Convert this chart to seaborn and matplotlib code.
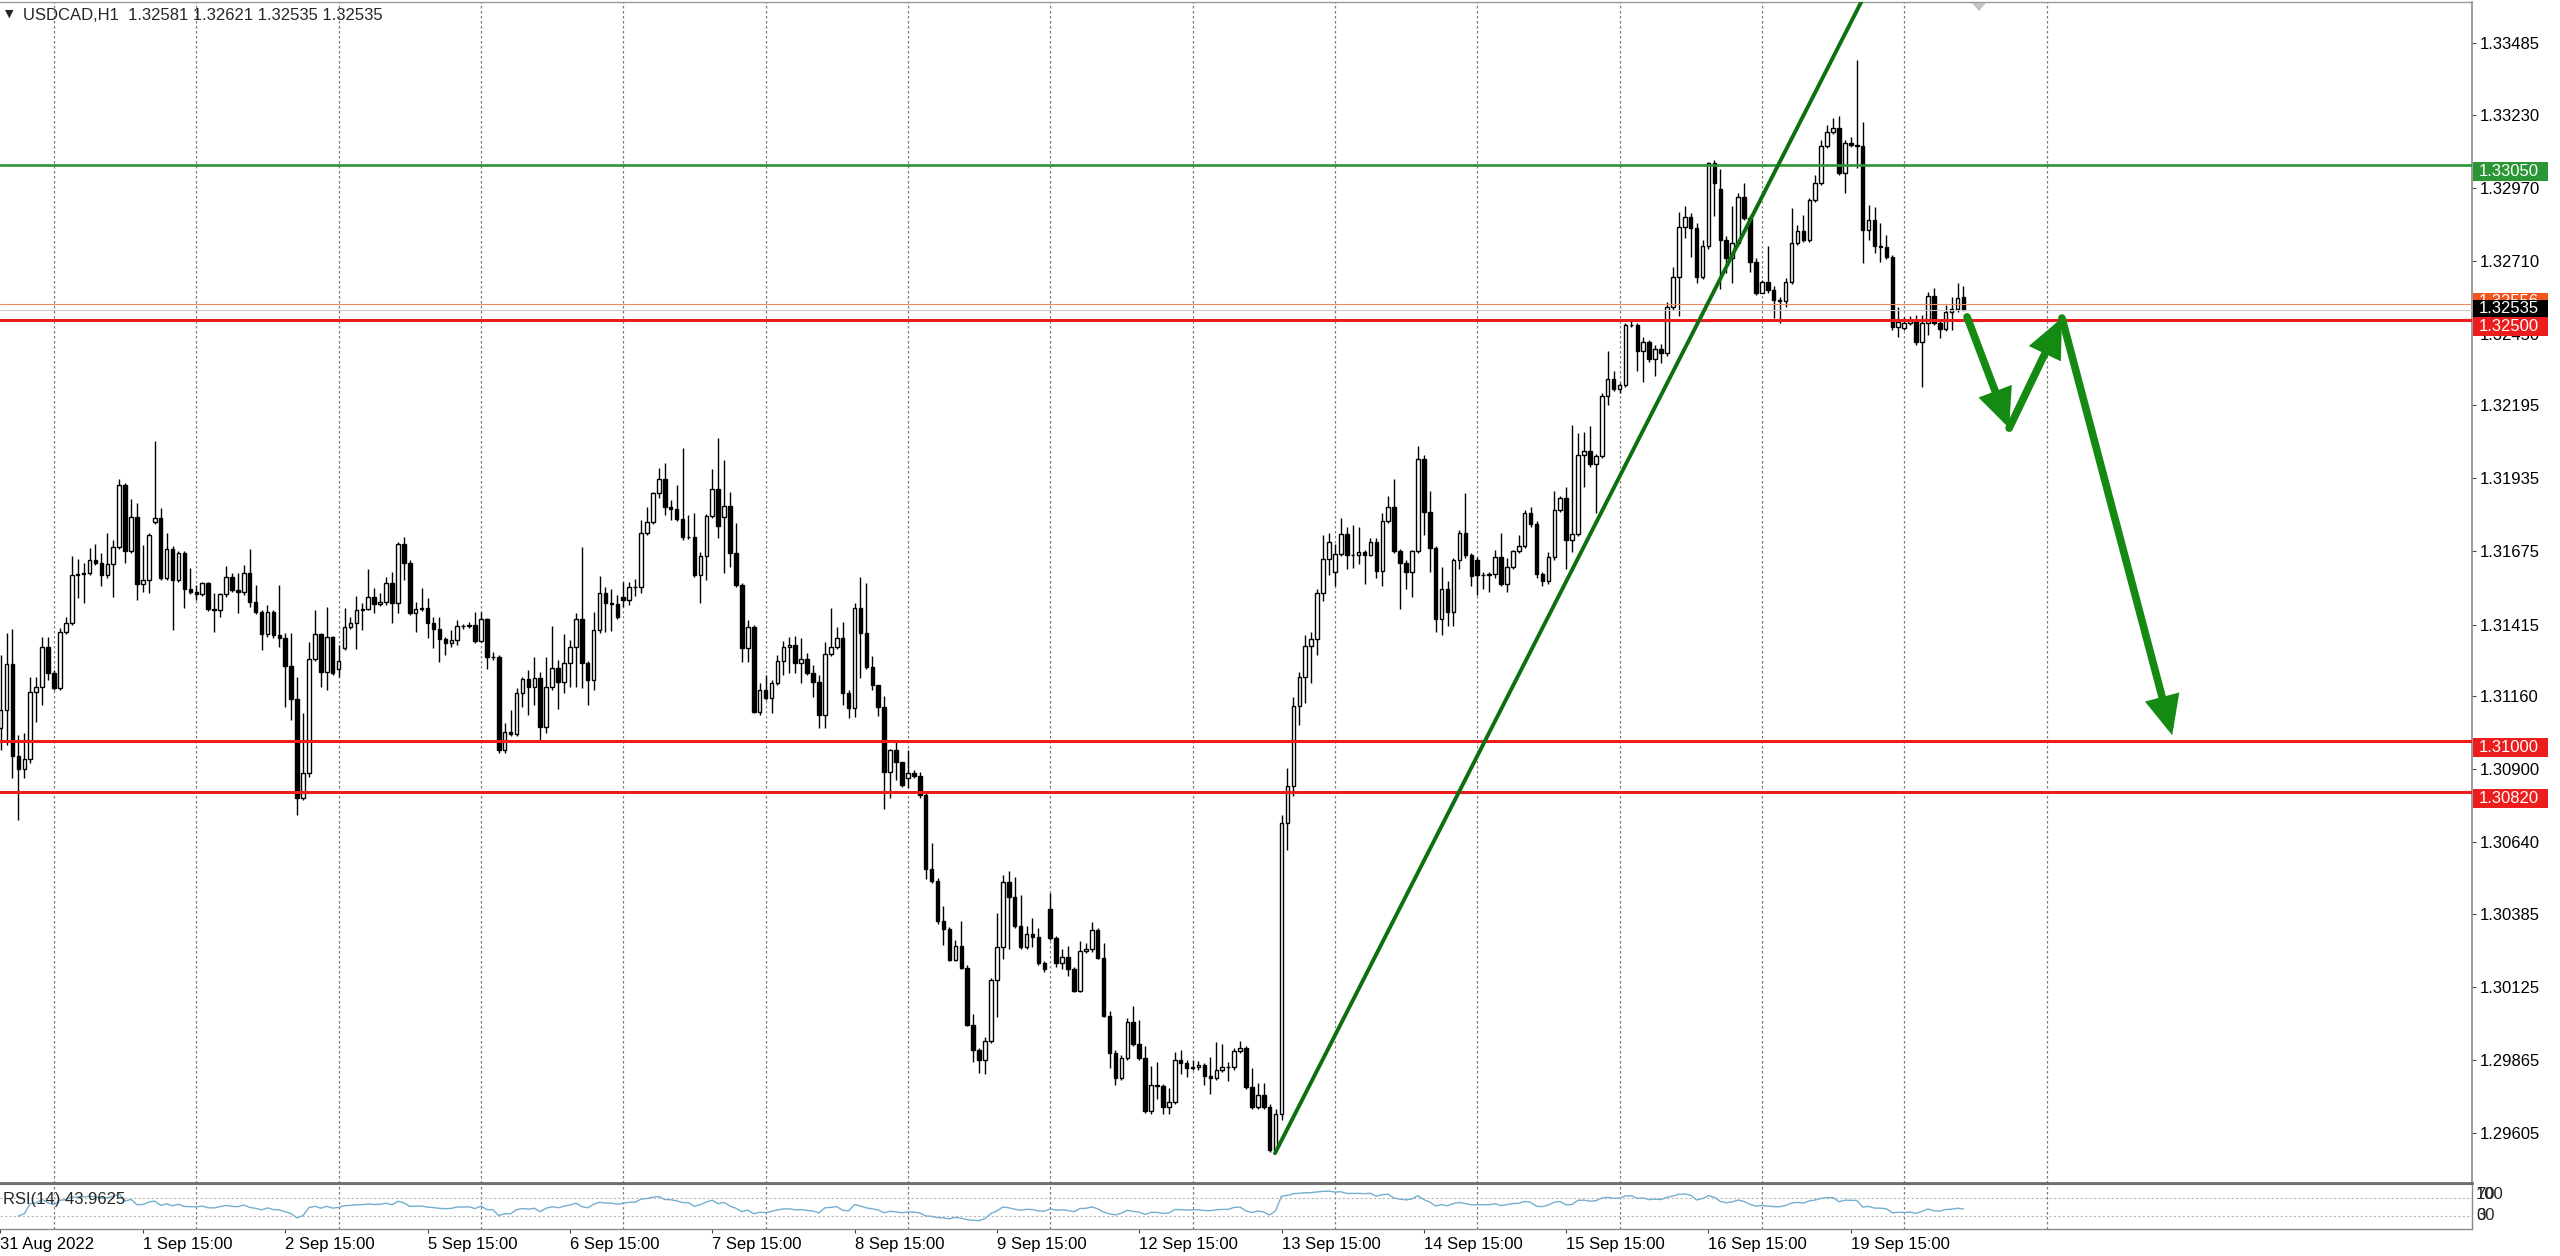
import numpy as np
import pandas as pd
import matplotlib
matplotlib.use("Agg")
import matplotlib.pyplot as plt
import seaborn as sns
from matplotlib.patches import Rectangle, Polygon, FancyArrowPatch, ArrowStyle
from matplotlib.transforms import blended_transform_factory

# ---------------- data (USDCAD H1, 31 Aug 2022 15:00 -> 20 Sep 2022 10:00) ----------------
closes = [
    1.31110, 1.31274, 1.30947, 1.30900, 1.30936, 1.31175, 1.31192, 1.31335, 1.31242, 1.31189,
    1.31388, 1.31420, 1.31591, 1.31595, 1.31598, 1.31644, 1.31634, 1.31591, 1.31630, 1.31691,
    1.31911, 1.31676, 1.31798, 1.31559, 1.31573, 1.31733, 1.31794, 1.31580, 1.31684, 1.31573,
    1.31669, 1.31541, 1.31530, 1.31523, 1.31563, 1.31470, 1.31466, 1.31523, 1.31584, 1.31538,
    1.31530, 1.31598, 1.31495, 1.31459, 1.31381, 1.31459, 1.31377, 1.31367, 1.31267, 1.31150,
    1.30797, 1.30886, 1.31292, 1.31381, 1.31246, 1.31370, 1.31242, 1.31285, 1.31406, 1.31420,
    1.31466, 1.31470, 1.31513, 1.31488, 1.31495, 1.31563, 1.31491, 1.31701, 1.31634, 1.31456,
    1.31470, 1.31474, 1.31420, 1.31399, 1.31363, 1.31349, 1.31360, 1.31409, 1.31409, 1.31413,
    1.31356, 1.31434, 1.31299, 1.31299, 1.30968, 1.31032, 1.31025, 1.31171, 1.31221, 1.31192,
    1.31224, 1.31050, 1.31192, 1.31260, 1.31210, 1.31278, 1.31335, 1.31434, 1.31278, 1.31217,
    1.31395, 1.31527, 1.31491, 1.31488, 1.31441, 1.31502, 1.31548, 1.31548, 1.31741, 1.31780,
    1.31883, 1.31933, 1.31833, 1.31826, 1.31790, 1.31726, 1.31726, 1.31591, 1.31659, 1.31801,
    1.31897, 1.31765, 1.31837, 1.31669, 1.31555, 1.31331, 1.31406, 1.31103, 1.31182, 1.31153,
    1.31207, 1.31285, 1.31335, 1.31342, 1.31278, 1.31292, 1.31242, 1.31210, 1.31093, 1.31310,
    1.31335, 1.31367, 1.31171, 1.31118, 1.31474, 1.31384, 1.31263, 1.31200, 1.31121, 1.30890,
    1.30968, 1.30925, 1.30843, 1.30886, 1.30875, 1.30808, 1.30544, 1.30502, 1.30359, 1.30331,
    1.30220, 1.30270, 1.30192, 1.29989, 1.29900, 1.29864, 1.29932, 1.30149, 1.30267, 1.30498,
    1.30445, 1.30341, 1.30267, 1.30313, 1.30302, 1.30210, 1.30188, 1.30299, 1.30210, 1.30231,
    1.30188, 1.30110, 1.30252, 1.30260, 1.30327, 1.30227, 1.30021, 1.29889, 1.29800, 1.29872,
    1.30000, 1.29921, 1.29872, 1.29683, 1.29775, 1.29772, 1.29697, 1.29715, 1.29864, 1.29854,
    1.29836, 1.29839, 1.29847, 1.29807, 1.29800, 1.29829, 1.29839, 1.29839, 1.29896, 1.29907,
    1.29768, 1.29697, 1.29740, 1.29697, 1.29544, 1.29672, 1.30708, 1.30840, 1.31125, 1.31228,
    1.31338, 1.31363, 1.31527, 1.31648, 1.31709, 1.31666, 1.31737, 1.31662, 1.31662, 1.31673,
    1.31662, 1.31709, 1.31605, 1.31783, 1.31833, 1.31676, 1.31634, 1.31602, 1.31676, 1.32004,
    1.31815, 1.31687, 1.31434, 1.31541, 1.31459, 1.31644, 1.31741, 1.31662, 1.31587, 1.31591,
    1.31591, 1.31595, 1.31655, 1.31559, 1.31619, 1.31676, 1.31694, 1.31812, 1.31773, 1.31595,
    1.31570, 1.31655, 1.31822, 1.31865, 1.31716, 1.31737, 1.32018, 1.32032, 1.31986, 1.32015,
    1.32228, 1.32289, 1.32253, 1.32267, 1.32481, 1.32481, 1.32388, 1.32420, 1.32360, 1.32396,
    1.32381, 1.32545, 1.32652, 1.32830, 1.32865, 1.32826, 1.32652, 1.32762, 1.33058, 1.32987,
    1.32784, 1.32720, 1.32773, 1.32937, 1.32862, 1.32705, 1.32595, 1.32634, 1.32606, 1.32570,
    1.32566, 1.32634, 1.32773, 1.32816, 1.32784, 1.32926, 1.32987, 1.33118, 1.33168, 1.33182,
    1.33022, 1.33129, 1.33122, 1.33118, 1.32819, 1.32855, 1.32762, 1.32759, 1.32723, 1.32474,
    1.32492, 1.32488, 1.32499, 1.32420, 1.32488, 1.32584, 1.32488, 1.32467, 1.32527, 1.32538,
    1.32577, 1.32535,
]
highs = [
    1.31306, 1.31384, 1.31399, 1.31021, 1.31029, 1.31228, 1.31228, 1.31370, 1.31370, 1.31253,
    1.31402, 1.31441, 1.31659, 1.31648, 1.31634, 1.31687, 1.31701, 1.31669, 1.31741, 1.31716,
    1.31933, 1.31918, 1.31862, 1.31847, 1.31698, 1.31741, 1.32068, 1.31830, 1.31741, 1.31694,
    1.31676, 1.31676, 1.31616, 1.31555, 1.31566, 1.31566, 1.31527, 1.31527, 1.31623, 1.31598,
    1.31598, 1.31627, 1.31684, 1.31555, 1.31466, 1.31484, 1.31466, 1.31555, 1.31384, 1.31384,
    1.31228, 1.31100, 1.31352, 1.31466, 1.31384, 1.31477, 1.31374, 1.31342, 1.31474, 1.31441,
    1.31516, 1.31491, 1.31612, 1.31545, 1.31527, 1.31584, 1.31602, 1.31709, 1.31726, 1.31644,
    1.31495, 1.31545, 1.31509, 1.31441, 1.31441, 1.31370, 1.31395, 1.31431, 1.31417, 1.31424,
    1.31459, 1.31459, 1.31438, 1.31317, 1.31306, 1.31064, 1.31110, 1.31189, 1.31228, 1.31253,
    1.31299, 1.31246, 1.31299, 1.31409, 1.31288, 1.31381, 1.31360, 1.31456, 1.31691, 1.31285,
    1.31459, 1.31587, 1.31548, 1.31541, 1.31520, 1.31566, 1.31566, 1.31577, 1.31787, 1.31833,
    1.31886, 1.31972, 1.31990, 1.31858, 1.31911, 1.32043, 1.31805, 1.31812, 1.31673, 1.31808,
    1.31968, 1.32079, 1.32000, 1.31886, 1.31776, 1.31563, 1.31431, 1.31413, 1.31207, 1.31235,
    1.31217, 1.31306, 1.31356, 1.31370, 1.31374, 1.31367, 1.31313, 1.31271, 1.31235, 1.31352,
    1.31474, 1.31406, 1.31424, 1.31182, 1.31491, 1.31584, 1.31563, 1.31303, 1.31200, 1.31160,
    1.30972, 1.31000, 1.30925, 1.30968, 1.30897, 1.30890, 1.30815, 1.30637, 1.30512, 1.30413,
    1.30338, 1.30292, 1.30359, 1.30203, 1.30028, 1.29907, 1.29946, 1.30156, 1.30388, 1.30523,
    1.30537, 1.30516, 1.30452, 1.30341, 1.30370, 1.30334, 1.30217, 1.30459, 1.30306, 1.30260,
    1.30270, 1.30195, 1.30288, 1.30281, 1.30356, 1.30334, 1.30281, 1.30039, 1.29900, 1.29882,
    1.30014, 1.30057, 1.30007, 1.29914, 1.29843, 1.29857, 1.29779, 1.29765, 1.29893, 1.29900,
    1.29864, 1.29864, 1.29861, 1.29854, 1.29875, 1.29928, 1.29921, 1.29857, 1.29907, 1.29932,
    1.29914, 1.29836, 1.29783, 1.29783, 1.29708, 1.29690, 1.30737, 1.30904, 1.31157, 1.31246,
    1.31377, 1.31388, 1.31541, 1.31733, 1.31741, 1.31701, 1.31794, 1.31762, 1.31769, 1.31762,
    1.31680, 1.31723, 1.31723, 1.31812, 1.31872, 1.31933, 1.31684, 1.31644, 1.31680, 1.32050,
    1.32018, 1.31890, 1.31694, 1.31619, 1.31570, 1.31651, 1.31751, 1.31883, 1.31669, 1.31655,
    1.31602, 1.31602, 1.31680, 1.31741, 1.31651, 1.31680, 1.31733, 1.31822, 1.31833, 1.31783,
    1.31602, 1.31673, 1.31890, 1.31872, 1.31904, 1.32125, 1.32097, 1.32101, 1.32121, 1.32022,
    1.32239, 1.32388, 1.32317, 1.32275, 1.32488, 1.32502, 1.32488, 1.32438, 1.32428, 1.32410,
    1.32413, 1.32563, 1.32688, 1.32883, 1.32905, 1.32880, 1.32844, 1.32784, 1.33061, 1.33068,
    1.33036, 1.32798, 1.32905, 1.32951, 1.32987, 1.32873, 1.32720, 1.32641, 1.32762, 1.32620,
    1.32581, 1.32648, 1.32898, 1.32837, 1.32873, 1.32933, 1.33015, 1.33140, 1.33193, 1.33218,
    1.33225, 1.33140, 1.33150, 1.33424, 1.33204, 1.32908, 1.32901, 1.32844, 1.32801, 1.32730,
    1.32545, 1.32509, 1.32513, 1.32517, 1.32517, 1.32599, 1.32613, 1.32499, 1.32552, 1.32581,
    1.32631, 1.32621,
]
lows = [
    1.30968, 1.30986, 1.30868, 1.30719, 1.30868, 1.30922, 1.31068, 1.31128, 1.31217, 1.31182,
    1.31182, 1.31381, 1.31413, 1.31509, 1.31491, 1.31591, 1.31627, 1.31552, 1.31580, 1.31513,
    1.31684, 1.31634, 1.31669, 1.31502, 1.31531, 1.31527, 1.31773, 1.31573, 1.31573, 1.31395,
    1.31566, 1.31474, 1.31523, 1.31502, 1.31516, 1.31463, 1.31388, 1.31441, 1.31513, 1.31531,
    1.31456, 1.31520, 1.31477, 1.31452, 1.31324, 1.31370, 1.31367, 1.31335, 1.31121, 1.31075,
    1.30737, 1.30790, 1.30872, 1.31285, 1.31192, 1.31182, 1.31235, 1.31228, 1.31324, 1.31399,
    1.31328, 1.31395, 1.31466, 1.31456, 1.31481, 1.31484, 1.31420, 1.31456, 1.31573, 1.31449,
    1.31388, 1.31463, 1.31367, 1.31331, 1.31281, 1.31306, 1.31335, 1.31342, 1.31399, 1.31402,
    1.31349, 1.31352, 1.31256, 1.31288, 1.30957, 1.30957, 1.31018, 1.31018, 1.31121, 1.31093,
    1.31128, 1.31004, 1.31029, 1.31182, 1.31114, 1.31171, 1.31192, 1.31192, 1.31189, 1.31128,
    1.31182, 1.31384, 1.31388, 1.31392, 1.31434, 1.31477, 1.31484, 1.31516, 1.31527, 1.31733,
    1.31773, 1.31865, 1.31805, 1.31787, 1.31783, 1.31716, 1.31719, 1.31584, 1.31491, 1.31573,
    1.31794, 1.31723, 1.31598, 1.31619, 1.31548, 1.31281, 1.31281, 1.31100, 1.31093, 1.31146,
    1.31100, 1.31200, 1.31235, 1.31242, 1.31242, 1.31207, 1.31235, 1.31157, 1.31046, 1.31046,
    1.31303, 1.31328, 1.31128, 1.31082, 1.31085, 1.31224, 1.31256, 1.31182, 1.31089, 1.30758,
    1.30797, 1.30861, 1.30836, 1.30833, 1.30868, 1.30797, 1.30509, 1.30495, 1.30349, 1.30274,
    1.30217, 1.30217, 1.30188, 1.29985, 1.29857, 1.29818, 1.29815, 1.29925, 1.30017, 1.30224,
    1.30260, 1.30334, 1.30260, 1.30260, 1.30267, 1.30203, 1.30178, 1.30292, 1.30195, 1.30188,
    1.30163, 1.30107, 1.30107, 1.30245, 1.30249, 1.30224, 1.30017, 1.29836, 1.29775, 1.29793,
    1.29864, 1.29914, 1.29864, 1.29676, 1.29672, 1.29726, 1.29672, 1.29672, 1.29708, 1.29815,
    1.29804, 1.29829, 1.29829, 1.29775, 1.29743, 1.29793, 1.29822, 1.29790, 1.29829, 1.29889,
    1.29761, 1.29690, 1.29690, 1.29690, 1.29537, 1.29537, 1.29651, 1.30612, 1.30804, 1.31057,
    1.31135, 1.31207, 1.31306, 1.31498, 1.31591, 1.31552, 1.31659, 1.31612, 1.31616, 1.31630,
    1.31559, 1.31659, 1.31580, 1.31552, 1.31776, 1.31669, 1.31470, 1.31541, 1.31513, 1.31669,
    1.31733, 1.31602, 1.31388, 1.31377, 1.31409, 1.31409, 1.31612, 1.31651, 1.31552, 1.31520,
    1.31541, 1.31530, 1.31580, 1.31552, 1.31530, 1.31612, 1.31669, 1.31687, 1.31762, 1.31580,
    1.31552, 1.31559, 1.31644, 1.31815, 1.31612, 1.31673, 1.31730, 1.31904, 1.31975, 1.31812,
    1.32008, 1.32196, 1.32246, 1.32239, 1.32260, 1.32474, 1.32317, 1.32278, 1.32349, 1.32299,
    1.32346, 1.32371, 1.32534, 1.32513, 1.32791, 1.32723, 1.32631, 1.32645, 1.32752, 1.32869,
    1.32609, 1.32666, 1.32631, 1.32762, 1.32855, 1.32670, 1.32588, 1.32595, 1.32595, 1.32506,
    1.32488, 1.32545, 1.32627, 1.32766, 1.32777, 1.32777, 1.32919, 1.32979, 1.33111, 1.33161,
    1.33015, 1.32951, 1.33115, 1.33040, 1.32702, 1.32784, 1.32737, 1.32705, 1.32716, 1.32463,
    1.32438, 1.32463, 1.32481, 1.32410, 1.32260, 1.32445, 1.32481, 1.32435, 1.32460, 1.32463,
    1.32527, 1.32535,
]
# opens equal the previous close, except these bars (first bar and gaps)
open_overrides = {0: 1.31046, 26: 1.31780, 57: 1.31256, 58: 1.31331, 105: 1.31513,
                  122: 1.31798, 153: 1.30868, 177: 1.30402, 225: 1.31602, 249: 1.31644,
                  290: 1.32965, 321: 1.32470, 331: 1.32581}

resistance_levels = [1.33050]
support_levels = [1.32500, 1.31000, 1.30820]
bid_price = 1.32535
ask_price = 1.32556
price_ticks = [1.33485, 1.33230, 1.32970, 1.32710, 1.32450, 1.32195, 1.31935, 1.31675,
               1.31415, 1.31160, 1.30900, 1.30640, 1.30385, 1.30125, 1.29865, 1.29605]
date_labels = ["31 Aug 2022", "1 Sep 15:00", "2 Sep 15:00", "5 Sep 15:00", "6 Sep 15:00",
               "7 Sep 15:00", "8 Sep 15:00", "9 Sep 15:00", "12 Sep 15:00", "13 Sep 15:00",
               "14 Sep 15:00", "15 Sep 15:00", "16 Sep 15:00", "19 Sep 15:00"]
date_label_bars = [-0.1, 24, 48, 72, 96, 120, 144, 168, 192, 216, 240, 264, 288, 312]
day_start_bars = [9 + 24 * k for k in range(15)]
# trend line anchors (bar, price) and forecast arrow path
trend_p1 = (214.9, 1.29533)
trend_p2 = (310.5, 1.33496)
forecast_path = [(331.6, 1.32510), (338.7, 1.32114), (347.6, 1.32506), (366.2, 1.31021)]
title_text = "USDCAD,H1  1.32581 1.32621 1.32535 1.32535"
rsi_text = "RSI(14) 43.9625"

# ---------------- build ----------------
n = len(closes)
assert len(highs) == n and len(lows) == n, (n, len(highs), len(lows))
opens = [open_overrides[0]] + closes[:-1]
for k, v in open_overrides.items():
    opens[k] = v
df = pd.DataFrame({"bar": np.arange(n), "open": opens, "high": highs,
                   "low": lows, "close": closes})

delta = df["close"].diff()
up = delta.clip(lower=0)
dn = (-delta).clip(lower=0)
avg_up = up.ewm(alpha=1 / 14, adjust=True).mean()
avg_dn = dn.ewm(alpha=1 / 14, adjust=True).mean()
df["rsi"] = 100 - 100 / (1 + avg_up / avg_dn)

sns.set_theme(style="white")
plt.rcParams["font.family"] = ["Liberation Sans", "DejaVu Sans"]

W, H = 2560, 1256
fig = plt.figure(figsize=(W / 100, H / 100), dpi=100)
fig.patch.set_facecolor("white")
ax = fig.add_axes([0, 73 / H, 2472 / W, 1181 / H])
ax2 = fig.add_axes([0, 27 / H, 2472 / W, 45 / H])

XMIN, XMAX = -0.1, 416.75
YMIN, YMAX = 1.29427, 1.33631
ppx = (YMAX - YMIN) / 1181.0

# grid (day separators)
for b in day_start_bars:
    for a in (ax, ax2):
        a.axvline(b, color="#7a7a7a", lw=0.9, ls=(0, (2, 2)), zorder=1)

# candles
ax.vlines(df["bar"], df["low"], df["high"], colors="black", linewidth=1.0, zorder=3)
bull = df["close"] >= df["open"]
bottom = np.minimum(df["open"], df["close"])
height = (df["close"] - df["open"]).abs()
ax.bar(df["bar"][bull], height[bull], bottom=bottom[bull], width=0.6,
       facecolor="white", edgecolor="black", linewidth=1.0, zorder=4)
ax.bar(df["bar"][~bull], height[~bull], bottom=bottom[~bull], width=0.6,
       facecolor="black", edgecolor="black", linewidth=1.0, zorder=4)

# level lines
ax.axhline(ask_price, color="#f4895f", lw=0.8, zorder=5)
ax.axhline(bid_price, color="#cfc6c6", lw=0.8, zorder=5)
for p in resistance_levels:
    ax.axhline(p, color="#2b9634", lw=1.9, zorder=6)
for p in support_levels:
    ax.axhline(p, color="#ee1d1d", lw=2.2, zorder=6)

# trend line (ray)
slope = (trend_p2[1] - trend_p1[1]) / (trend_p2[0] - trend_p1[0])
x_far = 330.0
ax.plot([trend_p1[0], x_far], [trend_p1[1], trend_p1[1] + slope * (x_far - trend_p1[0])],
        color="#0e6f10", lw=2.8, solid_capstyle="round", zorder=7)

# forecast arrows
style = ArrowStyle("-|>", head_length=1.0, head_width=0.45)
for (x0, y0), (x1, y1) in zip(forecast_path[:-1], forecast_path[1:]):
    arr = FancyArrowPatch((x0, y0), (x1, y1), arrowstyle=style, mutation_scale=19,
                          color="#148a12", lw=5.5, shrinkA=0, shrinkB=0, zorder=8,
                          joinstyle="miter", capstyle="round")
    ax.add_patch(arr)

ax.set_xlim(XMIN, XMAX)
ax.set_ylim(YMIN, YMAX)
ax.set_xticks([])
ax.yaxis.tick_right()
ax.set_yticks(price_ticks)
ax.set_yticklabels([f"{p:.5f}" for p in price_ticks])
ax.tick_params(axis="y", which="both", right=True, left=False, direction="out",
               length=2.9, width=0.8, color="#444444", pad=2.9, labelsize=12,
               labelcolor="black")
ax.spines["left"].set_visible(False)
ax.spines["top"].set_color("#9a9a9a")
ax.spines["top"].set_linewidth(1.0)
ax.spines["right"].set_color("#8a8a8a")
ax.spines["right"].set_linewidth(1.2)
ax.spines["bottom"].set_color("#6e6e6e")
ax.spines["bottom"].set_linewidth(2.0)
ax.set_facecolor("white")

# price tags on the right scale
tr = blended_transform_factory(ax.transAxes, ax.transData)


def tag(price, label, fc, top_off, hgt_px, z):
    top = price + top_off * ppx
    hgt = hgt_px * ppx
    ax.add_patch(Rectangle((2473 / 2472, top - hgt), 75 / 2472, hgt, transform=tr,
                           facecolor=fc, edgecolor="none", clip_on=False, zorder=z))
    ax.text(2479 / 2472, top - hgt / 2, label, transform=tr, fontsize=12, color="white",
            va="center", ha="left", clip_on=False, zorder=z + 0.5)


tag(ask_price, f"{ask_price:.5f}", "#f2541b", 11, 18, 10)
tag(bid_price, f"{bid_price:.5f}", "black", 10, 17, 11)
for p in resistance_levels:
    tag(p, f"{p:.5f}", "#2b9634", 3, 19, 12)
for p in support_levels:
    tag(p, f"{p:.5f}", "#ee1d1d", 3, 19, 12)

# RSI panel
sns.lineplot(data=df.iloc[3:], x="bar", y="rsi", ax=ax2, color="#74afcf", lw=1.0)
for lvl in (70, 30):
    ax2.axhline(lvl, color="#b8b8b8", lw=0.8, ls=(0, (2, 2)), zorder=1)
ax2.set_xlim(XMIN, XMAX)
ax2.set_ylim(0, 100)
ax2.set_xlabel("")
ax2.set_ylabel("")
ax2.set_yticks([])
ax2.set_xticks(date_label_bars)
ax2.set_xticklabels(date_labels)
for lbl in ax2.get_xticklabels():
    lbl.set_horizontalalignment("left")
ax2.tick_params(axis="x", bottom=True, direction="out", length=2.9, width=0.8,
                color="#444444", pad=2.5, labelsize=12, labelcolor="black")
ax2.spines["left"].set_visible(False)
ax2.spines["top"].set_color("#6e6e6e")
ax2.spines["top"].set_linewidth(1.5)
for s in ("bottom", "right"):
    ax2.spines[s].set_color("#8a8a8a")
    ax2.spines[s].set_linewidth(1.0)
for lab in ("100", "70"):
    ax2.text(2476 / 2472, 0.756, lab, transform=ax2.transAxes, fontsize=12,
             va="center", ha="left", clip_on=False)
for lab in ("30", "0"):
    ax2.text(2476 / 2472, 0.289, lab, transform=ax2.transAxes, fontsize=12,
             va="center", ha="left", clip_on=False)
ax2.text(3 / 2472, 0.66, rsi_text, transform=ax2.transAxes, fontsize=12,
         va="center", ha="left", zorder=5)

# header
fig.text(23 / W, 1 - 15 / H, title_text, fontsize=12, va="center", ha="left")
fig.text(5 / W, 1 - 14 / H, "\u25BC", fontsize=8, va="center", ha="left",
         family=["DejaVu Sans"])
# chart-shift marker
fig.add_artist(Polygon([[1972 / W, 1 - 3 / H], [1986 / W, 1 - 3 / H], [1979 / W, 1 - 11 / H]],
                       closed=True, transform=fig.transFigure, facecolor="#c4c4c4",
                       edgecolor="none"))

fig.savefig("out.png", dpi=100, facecolor="white")
